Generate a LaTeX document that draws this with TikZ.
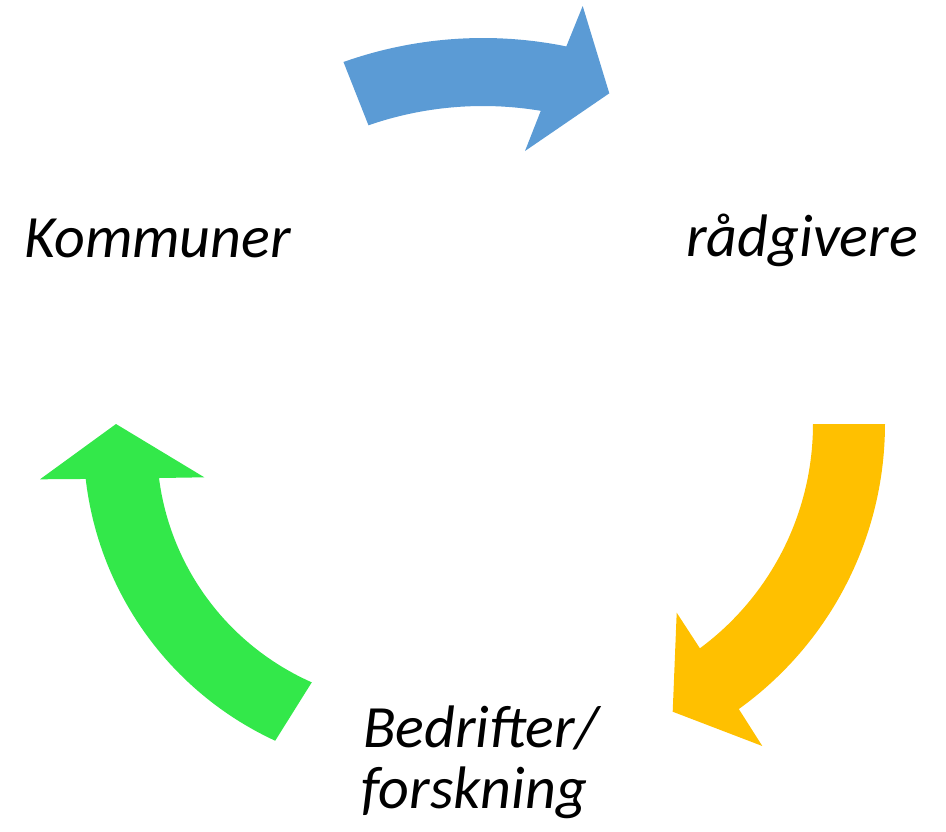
\documentclass[tikz,border=0pt]{standalone}
\usepackage{fontspec}
\setmainfont{Carlito}
\definecolor{cblue}{HTML}{5B9BD5}
\definecolor{cyellow}{HTML}{FFC000}
\definecolor{cgreen}{HTML}{33E84A}
\tikzset{lbl/.style={inner sep=0pt, font=\fontsize{60}{61}\selectfont\itshape, text=black}}
\begin{document}
\begin{tikzpicture}[x=1pt,y=-1pt]
\useasboundingbox (0,0) rectangle (946,831);
% blue arrow (top)
\fill[cblue] plot[domain=-109.5:-78.5,samples=50] ({483+418*cos(\x)},{456+418*sin(\x)})
  -- (582.7,6) -- (609.3,93.3) -- (525,151) -- (540.7,111)
  -- plot[domain=-80.5:-109.1,samples=50] ({483+350*cos(\x)},{456+350*sin(\x)}) -- cycle;
% yellow arrow (right)
\fill[cyellow] plot[domain=0:54.3,samples=50] ({534+351*cos(\x)},{424+351*sin(\x)})
  -- (762.3,746) -- (672.7,711.7) -- (676.7,612.7) -- (701,650)
  -- plot[domain=53.5:0,samples=50] ({534+279*cos(\x)},{424+279*sin(\x)}) -- cycle;
% green arrow (left)
\fill[cgreen] plot[domain=114.8:173.4,samples=50] ({413.7+330.2*cos(\x)},{441+330.2*sin(\x)})
  -- (40,479.3) -- (116,424) -- (204.3,477.3) -- (159,478)
  -- plot[domain=171.7:112.9,samples=50] ({413.7+(257.4+(171.7-\x)*0.0782)*cos(\x)},{441+(257.4+(171.7-\x)*0.0782)*sin(\x)}) -- cycle;
% labels
\node[lbl, anchor=base west] (kom) at (24,257.3) {Kommuner};
\node[lbl, anchor=base west] (rad) at (686,256.7) {rådgivere};
\node[lbl, anchor=base west] (bed) at (363,747.3) {Bedrifter/};
\node[lbl, anchor=base west] (for) at (361,808.3) {forskning};
\end{tikzpicture}
\end{document}
